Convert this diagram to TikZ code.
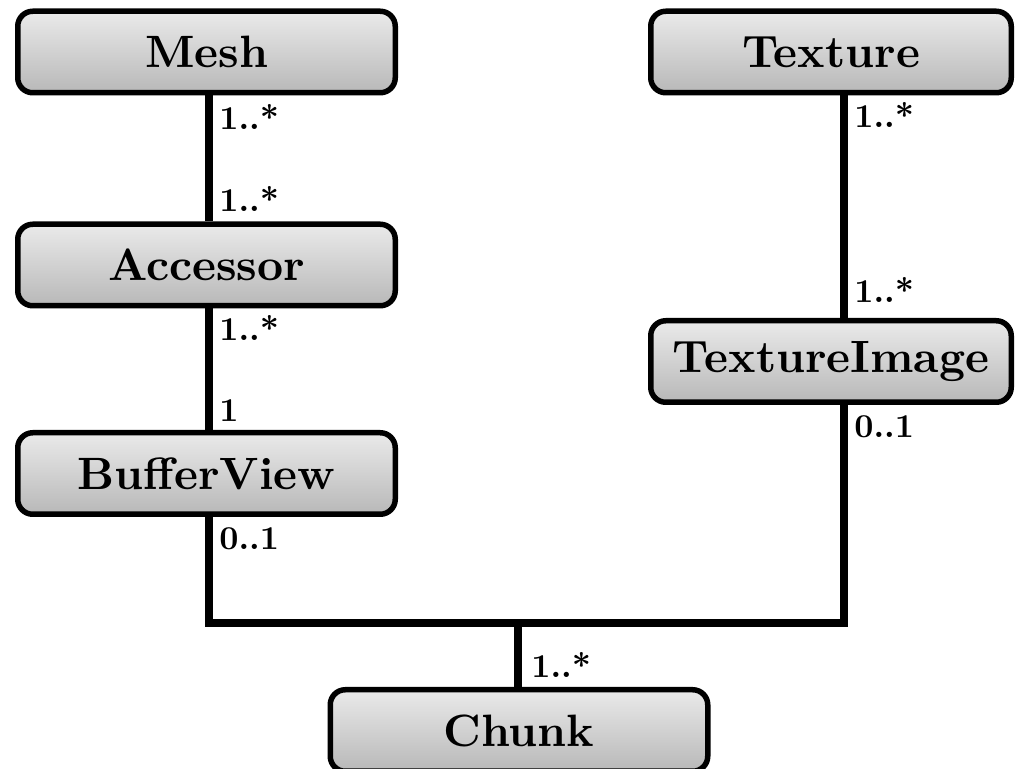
\documentclass[tikz,border=0pt]{standalone}
\usepackage{fontspec}
\usepackage{tikz}
\newfontface\classfont{lmroman10-bold.otf}
\definecolor{boxtop}{RGB}{234,234,234}
\definecolor{boxbottom}{RGB}{184,184,184}
\tikzset{
  classbox/.style={draw=black, line width=0.11cm, rounded corners=0.3cm,
    top color=boxtop, bottom color=boxbottom,
    minimum height=1.63cm, inner sep=0pt,
    font=\classfont\fontsize{25.8}{30}\selectfont},
  multlabel/.style={anchor=base west, inner sep=0pt,
    font=\classfont\fontsize{19}{22}\selectfont},
  assoc/.style={line width=0.16cm, line join=miter}
}
\begin{document}
\begin{tikzpicture}
            \useasboundingbox (0.000000,0.000000) rectangle (20.340000,15.380000);
            \clip (0.000000,0.000000) rectangle (20.340000,15.380000);

            % Class boxes, left column
            \node [classbox, minimum width=7.55cm] (mesh) at (4.130000,14.340000) {Mesh};%
            \node [classbox, minimum width=7.55cm] (accessor) at (4.130000,10.080000) {Accessor};%
            \node [classbox, minimum width=7.55cm] (bufferview) at (4.130000,5.910000) {BufferView};%

            % Class boxes, right column
            \node [classbox, minimum width=7.21cm] (texture) at (16.620000,14.340000) {Texture};%
            \node [classbox, minimum width=7.21cm] (textureimage) at (16.620000,8.150000) {TextureImage};%

            % Class box at the bottom
            \node [classbox, minimum width=7.55cm] (chunk) at (10.380000,0.770000) {Chunk};%

            % Corners of the bus joining BufferView, TextureImage and Chunk
            \coordinate (leftbus) at (4.180000,2.920000);%
            \coordinate (rightbus) at (16.880000,2.920000);%
            \coordinate (chunkbus) at (10.360000,2.920000);%

            % Drawing association Mesh Accessor
            \draw [assoc] (mesh.south -| leftbus) -- (accessor.north -| leftbus);%

            % Drawing association Accessor BufferView
            \draw [assoc] (accessor.south -| leftbus) -- (bufferview.north -| leftbus);%

            % Drawing association Texture TextureImage
            \draw [assoc] (texture.south -| rightbus) -- (textureimage.north -| rightbus);%

            % Drawing bus BufferView TextureImage
            \draw [assoc] (bufferview.south -| leftbus) -- (leftbus) -- (rightbus) -- (textureimage.south -| rightbus);%

            % Drawing association bus Chunk
            \draw [assoc] (chunkbus) -- (chunk.north -| chunkbus);%

            % Multiplicities
            \node [multlabel] (mesh-acc) at (4.380000,12.780000) {1..*};%
            \node [multlabel] (acc-mesh) at (4.380000,11.140000) {1..*};%
            \node [multlabel] (acc-buf) at (4.380000,8.560000) {1..*};%
            \node [multlabel] (buf-acc) at (4.380000,6.940000) {1};%
            \node [multlabel] (buf-chunk) at (4.380000,4.380000) {0..1};%
            \node [multlabel] (tex-img) at (17.080000,12.820000) {1..*};%
            \node [multlabel] (img-tex) at (17.080000,9.320000) {1..*};%
            \node [multlabel] (img-chunk) at (17.080000,6.620000) {0..1};%
            \node [multlabel] (chunk-bus) at (10.620000,1.820000) {1..*};%
\end{tikzpicture}
\end{document}
